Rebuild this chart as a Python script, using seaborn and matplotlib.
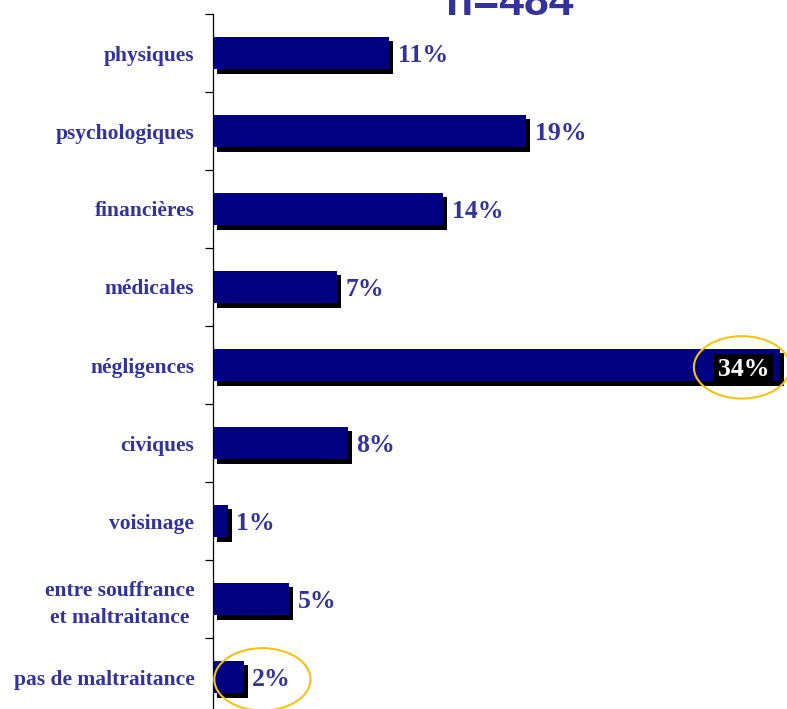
import matplotlib
matplotlib.use("Agg")
import matplotlib.pyplot as plt
import matplotlib.patheffects as pe
from matplotlib.patches import Ellipse
from matplotlib.ticker import FixedLocator
import seaborn as sns
import pandas as pd
import numpy as np

# values (percent of n=484)
categories = [
    "physiques",
    "psychologiques",
    "financières",
    "médicales",
    "négligences",
    "civiques",
    "voisinage",
    "entre souffrance\net maltraitance",
    "pas de maltraitance",
]
values = [10.56, 18.78, 13.8, 7.44, 34.0, 8.1, 0.9, 4.56, 1.86]
value_labels = ["11%", "19%", "14%", "7%", "34%", "8%", "1%", "5%", "2%"]
title = "n=484"
inside_label = "négligences"
circled = {"négligences": -2.3, "pas de maltraitance": 1.1}

navy = "#000080"
text_blue = "#333399"
gold = "#F2C21A"

sns.set_style("white")
plt.rcParams["font.family"] = ["Liberation Serif", "DejaVu Serif"]

df = pd.DataFrame({"cat": categories, "val": values})

fig = plt.figure(figsize=(7.87, 7.09), dpi=100)
ax = fig.add_axes([213 / 787, -7 / 709, 574 / 787, 702 / 709])

sns.barplot(data=df, x="val", y="cat", orient="h", color=navy, width=0.42,
            saturation=1, linewidth=0, ax=ax)
for bar in ax.patches:
    bar.set_path_effects([
        pe.SimplePatchShadow(offset=(2.6, -3.0), shadow_rgbFace="black", alpha=1),
        pe.Normal(),
    ])

ax.set_xlim(0, 34.4)
ax.set_ylim(len(categories) - 0.5, -0.5)
ax.set_xlabel("")
ax.set_ylabel("")
ax.set_xticks([])

for s in ["top", "right", "bottom"]:
    ax.spines[s].set_visible(False)
ax.spines["left"].set_color("black")
ax.spines["left"].set_linewidth(0.9)

ax.tick_params(axis="y", which="major", length=0, pad=13.5)
ax.yaxis.set_minor_locator(FixedLocator(np.arange(-0.5, len(categories), 1)))
ax.tick_params(axis="y", which="minor", length=6, width=0.9, color="black",
               left=True)
for lab in ax.get_yticklabels():
    lab.set_fontsize(15.5)
    lab.set_fontweight("bold")
    lab.set_color(text_blue)
    lab.set_multialignment("center")
    lab.set_linespacing(1.45)

# value labels
outside = [lab if cat != inside_label else "" for cat, lab in zip(categories, value_labels)]
texts = ax.bar_label(ax.containers[0], labels=outside, padding=6, fontsize=18.5,
                     fontweight="bold", color=text_blue)
for t in texts:
    t.set_va("center_baseline")

# highlighted value sits inside its bar, white on black
i = categories.index(inside_label)
ax.text(values[i] - 0.65, i + 0.02, value_labels[i], ha="right", va="center_baseline",
        fontsize=18.5, fontweight="bold", color="white",
        bbox=dict(facecolor="black", edgecolor="none",
                  boxstyle="square,pad=0.15"))

for cat, dx in circled.items():
    k = categories.index(cat)
    ax.add_patch(Ellipse((values[k] + dx, k + 0.03), 5.76, 0.8, fill=False,
                         edgecolor=gold, linewidth=1.5, clip_on=False, zorder=5))

fig.text(510 / 787, 1 - 15 / 709, title, ha="center", va="baseline",
         fontsize=32, fontweight="bold", color=text_blue,
         family=["Liberation Sans", "DejaVu Sans"])

fig.savefig("out.png", dpi=100)
plt.close(fig)
